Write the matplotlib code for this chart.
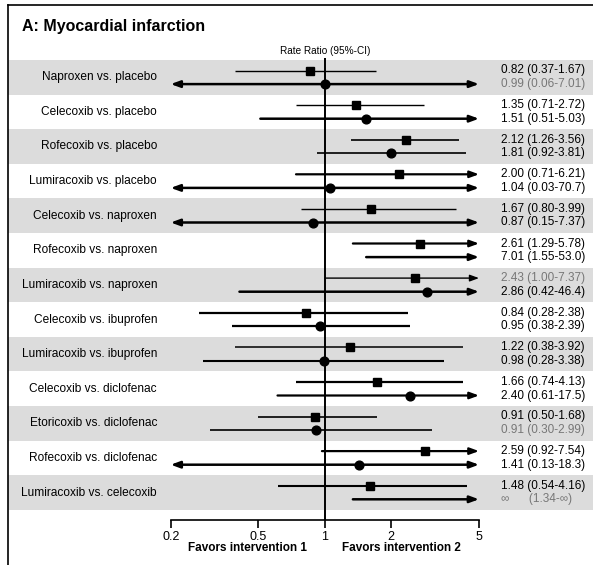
import numpy as np
import matplotlib
matplotlib.use("Agg")
import matplotlib.pyplot as plt
from matplotlib.patches import Rectangle, FancyArrowPatch
from matplotlib.lines import Line2D
import matplotlib.transforms as mtransforms

plt.rcParams['font.family'] = ['Liberation Sans', 'DejaVu Sans']

title = "A: Myocardial infarction"
comparisons = [
    "Naproxen vs. placebo", "Celecoxib vs. placebo", "Rofecoxib vs. placebo",
    "Lumiracoxib vs. placebo", "Celecoxib vs. naproxen", "Rofecoxib vs. naproxen",
    "Lumiracoxib vs. naproxen", "Celecoxib vs. ibuprofen", "Lumiracoxib vs. ibuprofen",
    "Celecoxib vs. diclofenac", "Etoricoxib vs. diclofenac", "Rofecoxib vs. diclofenac",
    "Lumiracoxib vs. celecoxib",
]
# series 1 (squares)
est1 = [0.86, 1.39, 2.34, 2.18, 1.62, 2.70, 2.56, 0.82, 1.30, 1.72, 0.90, 2.85, 1.60]
lo1 = [0.39, 0.74, 1.32, 0.74, 0.78, 1.34, 1.00, 0.27, 0.39, 0.74, 0.50, 0.97, 0.61]
hi1 = [1.70, 2.82, 4.06, 6.21, 3.93, 5.78, 7.37, 2.39, 4.24, 4.21, 1.72, 7.54, 4.41]
# series 2 (circles)
est2 = [1.00, 1.53, 1.99, 1.05, 0.88, 7.01, 2.92, 0.95, 0.99, 2.43, 0.91, 1.43, np.inf]
lo2 = [0.06, 0.51, 0.92, 0.03, 0.15, 1.54, 0.41, 0.38, 0.28, 0.61, 0.30, 0.13, 1.34]
hi2 = [7.01, 5.03, 4.36, 70.7, 7.37, 53.0, 46.4, 2.43, 3.46, 17.5, 3.06, 18.3, np.inf]

text1 = ["0.82 (0.37-1.67)", "1.35 (0.71-2.72)", "2.12 (1.26-3.56)", "2.00 (0.71-6.21)",
         "1.67 (0.80-3.99)", "2.61 (1.29-5.78)", "2.43 (1.00-7.37)", "0.84 (0.28-2.38)",
         "1.22 (0.38-3.92)", "1.66 (0.74-4.13)", "0.91 (0.50-1.68)", "2.59 (0.92-7.54)",
         "1.48 (0.54-4.16)"]
text2 = ["0.99 (0.06-7.01)", "1.51 (0.51-5.03)", "1.81 (0.92-3.81)", "1.04 (0.03-70.7)",
         "0.87 (0.15-7.37)", "7.01 (1.55-53.0)", "2.86 (0.42-46.4)", "0.95 (0.38-2.39)",
         "0.98 (0.28-3.38)", "2.40 (0.61-17.5)", "0.91 (0.30-2.99)", "1.41 (0.13-18.3)",
         "\u221e      (1.34-\u221e)"]
gray1 = [False, False, False, False, False, False, True, False, False, False, False, False, False]
gray2 = [True, False, False, False, False, False, False, False, False, False, True, False, True]
lw1 = [1.0, 1.0, 1.2, 1.6, 1.0, 1.6, 1.0, 1.6, 1.1, 1.6, 1.2, 1.6, 1.5]
lw2 = [1.8, 1.8, 1.2, 1.8, 1.8, 1.8, 1.8, 1.6, 1.5, 1.6, 1.2, 1.8, 1.8]

xticks = [0.2, 0.5, 1, 2, 5]
xticklabels = ["0.2", "0.5", "1", "2", "5"]
xmin, xmax = 0.2, 5

W, H = 593, 565
fig = plt.figure(figsize=(W / 100, H / 100), dpi=100)
top_px, bot_px = 58, 520
ax = fig.add_axes([170.7 / W, 1 - bot_px / H, (479 - 170.7) / W, (bot_px - top_px) / H])
ax.set_xscale('log')
ax.set_xlim(xmin, xmax)
ax.set_ylim(bot_px, top_px)
ax.patch.set_visible(False)

row0, rowh, off = 60.0, 34.6, 6.8
n = len(comparisons)
band_tr = mtransforms.blended_transform_factory(fig.transFigure, ax.transData)
lab_tr = band_tr
for i in range(n):
    y0 = row0 + i * rowh
    if i % 2 == 0:
        ax.add_patch(Rectangle((8 / W, y0), 1 - 8 / W, rowh, transform=band_tr,
                               facecolor='#dcdcdc', edgecolor='none', clip_on=False, zorder=0))

ax.axvline(1, color='black', lw=1.4, zorder=2)


def draw(y, est, lo, hi, lw, marker, ms):
    a = max(lo, xmin)
    b = min(hi, xmax)
    left = lo < xmin
    right = hi > xmax
    if left and right:
        style = '<|-|>'
    elif right:
        style = '-|>'
    elif left:
        style = '<|-'
    else:
        style = '-'
    if style == '-':
        ax.plot([a, b], [y, y], color='black', lw=lw, solid_capstyle='butt', zorder=3)
    else:
        arr = FancyArrowPatch((a, y), (b, y), arrowstyle=style + ',head_length=0.6,head_width=0.22',
                              mutation_scale=9, lw=lw, color='black', shrinkA=0, shrinkB=0,
                              zorder=3, clip_on=False)
        ax.add_patch(arr)
    if np.isfinite(est) and xmin <= est <= xmax:
        ax.plot([est], [y], marker=marker, ms=ms, color='black', mec='black', zorder=4,
                linestyle='none')


for i in range(n):
    yc = row0 + (i + 0.5) * rowh
    draw(yc - off, est1[i], lo1[i], hi1[i], lw1[i], 's', 6.0)
    draw(yc + off, est2[i], lo2[i], hi2[i], lw2[i], 'o', 6.3)
    ax.text(157 / W, yc, comparisons[i], transform=lab_tr, ha='right', va='center',
            fontsize=8.6, color='black')
    ax.text(501 / W, yc - off, text1[i], transform=lab_tr, ha='left', va='center',
            fontsize=8.5, color='#777777' if gray1[i] else 'black')
    ax.text(501 / W, yc + off, text2[i], transform=lab_tr, ha='left', va='center',
            fontsize=8.5, color='#777777' if gray2[i] else 'black')

for s in ['top', 'right', 'left']:
    ax.spines[s].set_visible(False)
ax.spines['bottom'].set_linewidth(1.2)
ax.set_yticks([])
ax.set_xticks(xticks)
ax.set_xticklabels(xticklabels)
ax.minorticks_off()
ax.tick_params(axis='x', direction='out', length=6, width=1.2, labelsize=9, pad=2)

ax.text(1, top_px - 2.5, "Rate Ratio (95%-CI)", ha='center', va='bottom', fontsize=7.2,
        transform=ax.transData)
ax.text(np.sqrt(xmin), 548, "Favors intervention 1", ha='center', va='center', fontsize=8.5,
        fontweight='bold', transform=ax.transData, clip_on=False)
ax.text(np.sqrt(xmax), 548, "Favors intervention 2", ha='center', va='center', fontsize=8.5,
        fontweight='bold', transform=ax.transData, clip_on=False)

fig.text(22 / W, 1 - 27 / H, title, ha='left', va='center', fontsize=11.5, fontweight='bold')

fig.add_artist(Line2D([7.5 / W, 7.5 / W], [0, 1 - 4.5 / H], color='black', lw=1.2,
                      transform=fig.transFigure))
fig.add_artist(Line2D([7.5 / W, 1], [1 - 4.5 / H, 1 - 4.5 / H], color='black', lw=1.2,
                      transform=fig.transFigure))

fig.savefig("out.png", dpi=100)
